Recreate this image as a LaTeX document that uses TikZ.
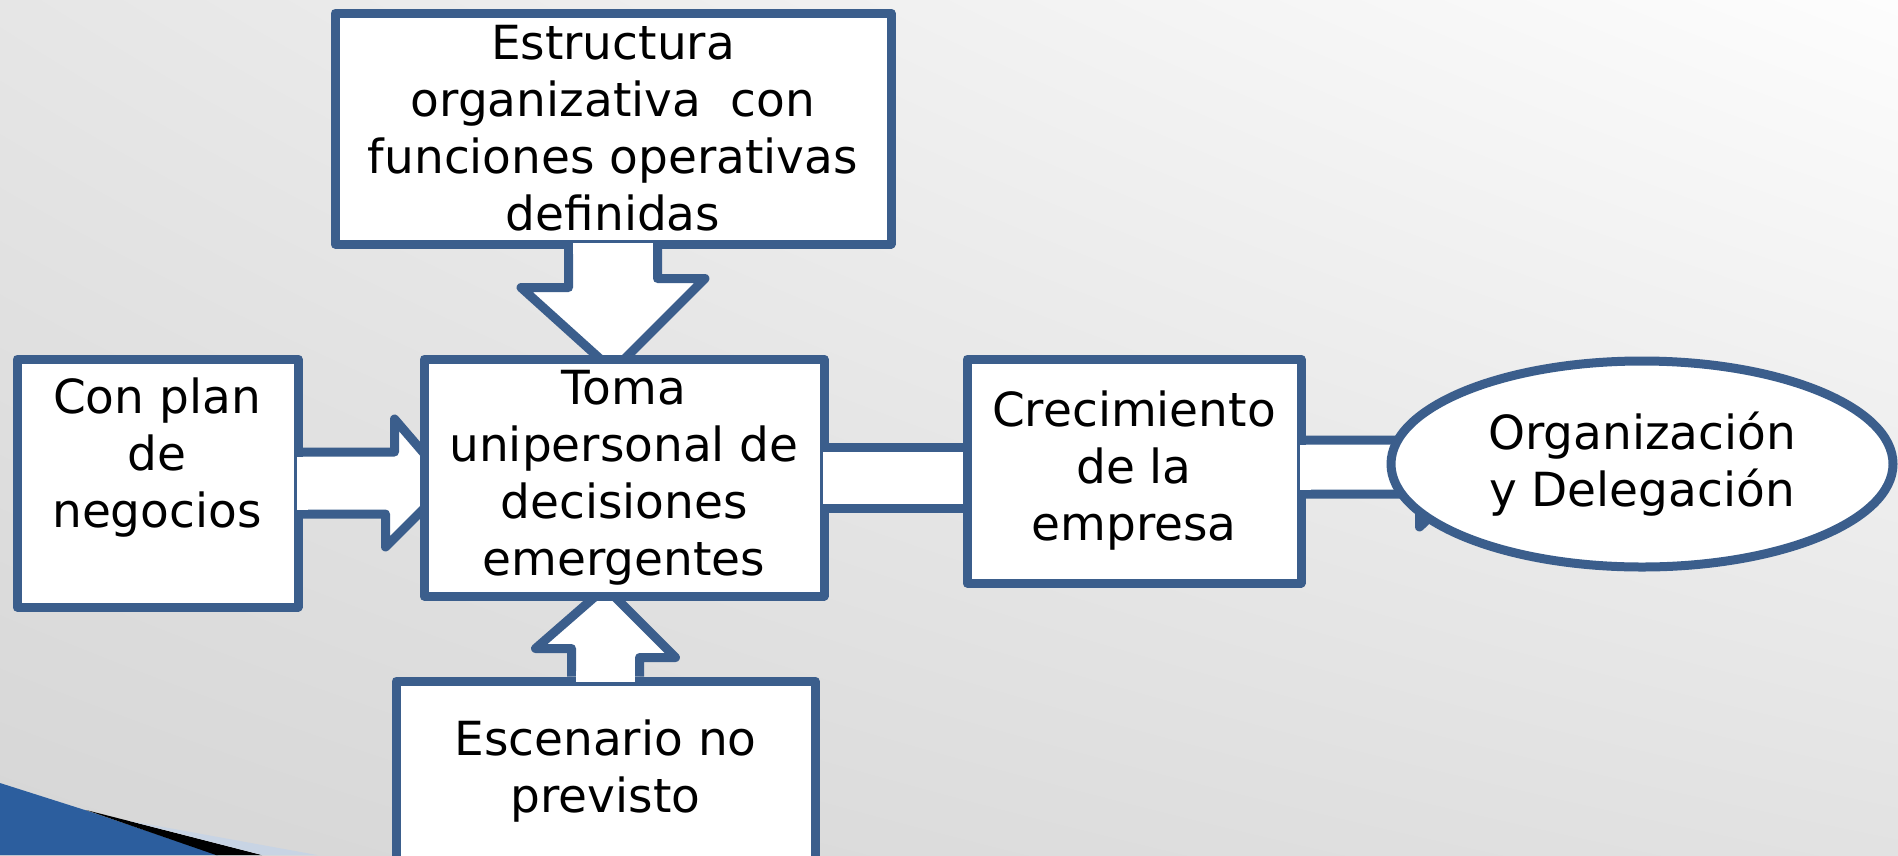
\documentclass[tikz,border=0pt]{standalone}
\usepackage{fontspec}
\setmainfont{DejaVu Sans}
\usetikzlibrary{calc,shapes.geometric,shadings}
\pgfdeclarelayer{bg}
\pgfdeclarelayer{arrows}
\pgfsetlayers{bg,arrows,main}
\definecolor{bluec}{RGB}{59,94,140}
\definecolor{bgUL}{RGB}{230,230,230}
\definecolor{bgLL}{RGB}{214,214,214}
\definecolor{bgUR}{RGB}{253,253,253}
\definecolor{bgLR}{RGB}{226,226,226}
\definecolor{wedgeblue}{RGB}{44,94,158}
\definecolor{wedgelight}{RGB}{200,212,228}
\begin{document}
\begin{tikzpicture}[x=1pt,y=-1pt,
  box/.style={draw=bluec, line width=9pt, fill=white, rectangle, inner sep=0pt,
    align=center, font=\fontsize{47}{57}\selectfont, line join=round},
  txt/.style={inner sep=0pt, align=center, font=\fontsize{47}{57}\selectfont},
  arr/.style={draw=bluec, line width=9pt, line join=round},
]
\useasboundingbox (0,0) rectangle (1898,855);
\begin{pgfonlayer}{bg}
\shade[upper left=bgUL, lower left=bgLL, upper right=bgUR, lower right=bgLR] (0,0) rectangle (1898,855);
\fill[wedgeblue] (0,783) -- (88,811) -- (218,855) -- (0,855) -- cycle;
\fill[black] (86,810) -- (262,855) -- (216,855) -- cycle;
\fill[wedgelight] (130,821) -- (317,855) -- (262,855) -- cycle;
\end{pgfonlayer}

% boxes
\node[box, minimum width=556pt, minimum height=231pt] (top) at (613,128.5)
  {Estructura\\organizativa\ \ con\\funciones operativas\\definidas};
\node[box, minimum width=281pt, minimum height=248pt] (plan) at (157.5,483) {};
\node[txt] (plantext) at (157,458) {Con plan\\de\\negocios};
\node[box, minimum width=419pt, minimum height=181pt] (esc) at (605.5,771.5) {Escenario no\\previsto};
\node[box, minimum width=400pt, minimum height=237pt] (central) at (624,477.5)
  {Toma\\unipersonal de\\decisiones\\emergentes};
\node[box, minimum width=334pt, minimum height=224pt] (crec) at (1134,471) {Crecimiento\\de la\\empresa};
\node[box, ellipse, minimum width=502pt, minimum height=206pt] (org) at (1642,464) {Organización\\y Delegación};

% tips
\path (top.south |- central.north) ++(0,16) coordinate (t1);
\path (plan.east -| central.west) ++(30,0) coordinate (t2);
\path (esc.north |- central.south) ++(0,-13) coordinate (t3);
\path (org.west) ++(93,6) coordinate (t4);

\begin{pgfonlayer}{arrows}
% top -> central
\fill[white] ([xshift=-44.5pt]top.south) -- ++(0,39) -- ++(-47.5,0) -- (t1) -- ++(92,-92) -- ++(-47.5,0) -- ([xshift=44.5pt]top.south) -- cycle;
\draw[arr] ([xshift=-44.5pt]top.south) -- ++(0,39) -- ++(-47.5,0) -- (t1) -- ++(92,-92) -- ++(-47.5,0) -- ([xshift=44.5pt]top.south);
% plan -> central
\fill[white] ([yshift=31pt]plan.east) -- ++(92,0) -- ++(0,-33) -- (t2) -- ++(-64,64) -- ++(0,-33) -- ([yshift=-31pt]plan.east) -- cycle;
\draw[arr] ([yshift=31pt]plan.east) -- ++(92,0) -- ++(0,-33) -- (t2) -- ++(-64,64) -- ++(0,-33) -- ([yshift=-31pt]plan.east);
% esc -> central
\fill[white] ([xshift=-34pt]esc.north) -- ++(0,-28) -- ++(-36,0) -- (t3) -- ++(70,70) -- ++(-36,0) -- ([xshift=34pt]esc.north) -- cycle;
\draw[arr] ([xshift=-34pt]esc.north) -- ++(0,-28) -- ++(-36,0) -- (t3) -- ++(70,70) -- ++(-36,0) -- ([xshift=34pt]esc.north);
% central -> crec
\fill[white] ([yshift=30.5pt]central.east) -- ([yshift=30.5pt]central.east -| crec.center) -- ([yshift=-30.5pt]central.east -| crec.center) -- ([yshift=-30.5pt]central.east) -- cycle;
\draw[arr] ([yshift=30.5pt]central.east) -- ([yshift=30.5pt]central.east -| crec.center);
\draw[arr] ([yshift=-30.5pt]central.east) -- ([yshift=-30.5pt]central.east -| crec.center);
% crec -> org
\fill[white] ([yshift=31pt]crec.east) -- ++(123,0) -- ++(0,-27) -- (t4) -- ++(-60,57) -- ++(0,-33) -- ([yshift=-23pt]crec.east) -- cycle;
\draw[arr] ([yshift=31pt]crec.east) -- ++(123,0) -- ++(0,-27) -- (t4) -- ++(-60,57) -- ++(0,-33) -- ([yshift=-23pt]crec.east);
\end{pgfonlayer}

% openings in the source boxes
\fill[white] ([xshift=-40pt,yshift=5.5pt]top.south) rectangle ([xshift=40pt,yshift=-5.5pt]top.south);
\fill[white] ([xshift=-5.5pt,yshift=26.5pt]plan.east) rectangle ([xshift=5.5pt,yshift=-26.5pt]plan.east);
\fill[white] ([xshift=-29.5pt,yshift=5.5pt]esc.north) rectangle ([xshift=29.5pt,yshift=-5.5pt]esc.north);
\fill[white] ([xshift=-5.5pt,yshift=26pt]central.east) rectangle ([xshift=5.5pt,yshift=-26pt]central.east);
\fill[white] ([xshift=-5.5pt,yshift=26.5pt]crec.east) rectangle ([xshift=5.5pt,yshift=-18.5pt]crec.east);
\end{tikzpicture}
\end{document}
